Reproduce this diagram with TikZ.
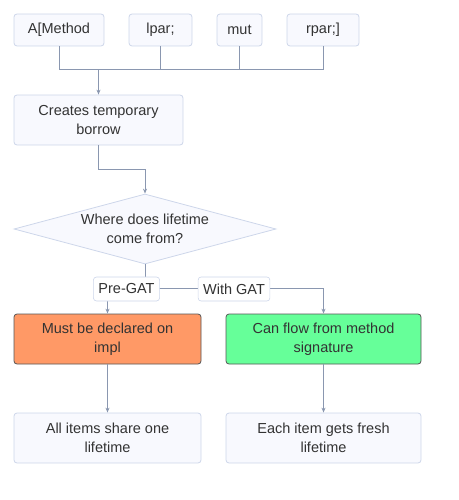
\documentclass[tikz,border=0pt]{standalone}
\usepackage{fontspec}
\setmainfont{Liberation Sans}
\usetikzlibrary{shapes.geometric,arrows.meta}
\definecolor{boxfill}{HTML}{F8F9FE}
\definecolor{boxline}{HTML}{CDD6EA}
\definecolor{edge}{HTML}{8A97B0}
\definecolor{txt}{HTML}{333333}
\definecolor{orangefill}{HTML}{FF9966}
\definecolor{greenfill}{HTML}{66FF99}
\definecolor{darkline}{HTML}{555555}
\tikzset{
  x=1pt,y=-1pt,
  every node/.style={font=\fontsize{14.5}{19}\selectfont, text=txt, align=center, inner sep=0pt},
  lightbox/.style={draw=boxline, fill=boxfill, rounded corners=3pt, line width=0.8pt},
  darkbox/.style={draw=darkline, rounded corners=3pt, line width=0.8pt},
  conn/.style={draw=edge, line width=1pt, -{Stealth[length=5pt,width=4pt]}},
  plain/.style={draw=edge, line width=1pt},
  lbl/.style={draw=boxline, fill=white, rounded corners=3pt, line width=0.6pt, minimum height=24pt, inner xsep=5pt},
}
\begin{document}
\begin{tikzpicture}
\useasboundingbox (0,0) rectangle (458,500);
% top nodes
\node[lightbox, minimum width=90pt, minimum height=32pt] (a) at (59,30) {A[Method};
\node[lightbox, minimum width=63pt, minimum height=32pt] (b) at (160.5,30) {lpar;};
\node[lightbox, minimum width=45pt, minimum height=32pt] (c) at (239.5,30) {mut};
\node[lightbox, minimum width=72pt, minimum height=32pt] (d) at (323,30) {rpar;]};
\coordinate (j) at (98.5,70);
\node[lightbox, minimum width=169pt, minimum height=50pt] (cr) at (98.5,120) {Creates temporary\\borrow};
\node[diamond, aspect=3.74, draw=boxline, fill=boxfill, line width=0.8pt, minimum width=262pt, minimum height=70pt, inner sep=0pt] (q) at (145,229) {};
\node at (145,229) {Where does lifetime\\come from?};
\node[darkbox, fill=orangefill, minimum width=187pt, minimum height=50pt] (o) at (107.5,339) {Must be declared on\\impl};
\node[darkbox, fill=greenfill, minimum width=195pt, minimum height=50pt] (g) at (323.5,339) {Can flow from method\\signature};
\node[lightbox, minimum width=187pt, minimum height=50pt] (o2) at (107.5,438) {All items share one\\lifetime};
\node[lightbox, minimum width=195pt, minimum height=50pt] (g2) at (323.5,438) {Each item gets fresh\\lifetime};
% connectors
\draw[plain] (a.south) |- (j);
\draw[plain] (b.south) |- (j);
\draw[plain] (c.south) |- (j);
\draw[plain] (d.south) |- (j);
\draw[conn] (j) -- (cr.north);
\draw[conn] (cr.south) |- (145,169) -- (q.north);
\draw[conn] (q.south) |- (107.5,288) -- (o.north);
\draw[conn] (q.south) |- (323.5,288) -- (g.north);
\draw[conn] (o.south) -- (o2.north);
\draw[conn] (g.south) -- (g2.north);
% labels
\node[lbl] (l1) at (126.5,289) {Pre-GAT};
\node[lbl] (l2) at (234,289) {With GAT};
\end{tikzpicture}
\end{document}
